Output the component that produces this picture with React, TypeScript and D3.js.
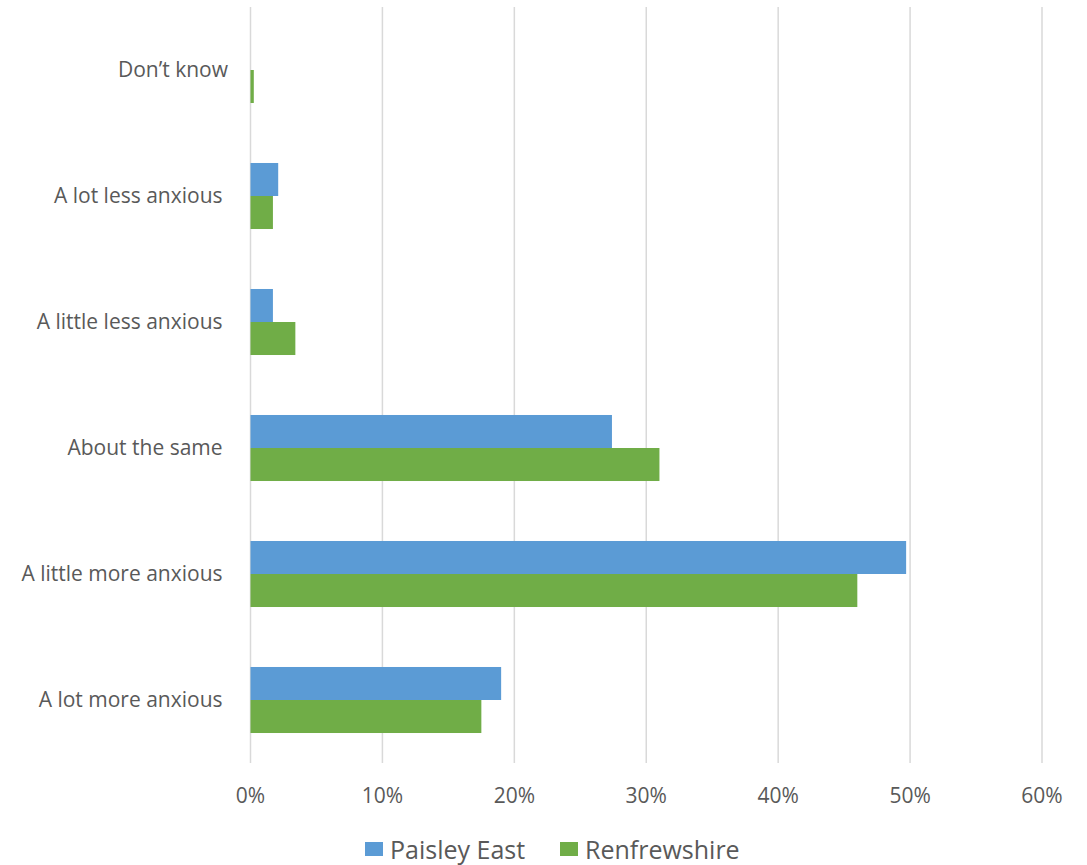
import React from "react";
import * as d3 from "d3";

const categories = [
  "Don\u2019t know",
  "A lot less anxious ",
  "A little less anxious ",
  "About the same ",
  "A little more anxious ",
  "A lot more anxious ",
];
const seriesNames = ["Paisley East", "Renfrewshire"];
const paisleyEast = [0, 2.1, 1.7, 27.4, 49.7, 19.0];
const renfrewshire = [0.25, 1.7, 3.4, 31.0, 46.0, 17.5];
const colors = ["#5b9bd5", "#70ad47"];
const xTicks = [0, 10, 20, 30, 40, 50, 60];

const W = 1087;
const H = 865;
const margin = { left: 250.5, right: 45, top: 7, bottom: 102 };

export default function App() {
  const x = d3.scaleLinear().domain([0, 60]).range([margin.left, W - margin.right]);
  const y = d3
    .scaleBand<string>()
    .domain(categories)
    .range([margin.top, H - margin.bottom])
    .paddingInner(0.476)
    .paddingOuter(0.238);
  const inner = d3.scaleBand<string>().domain(seriesNames).range([0, y.bandwidth()]);
  const series = [paisleyEast, renfrewshire];
  const font = "'Open Sans', sans-serif";
  return (
    <svg width={W} height={H} style={{ display: "block", position: "absolute", left: 0, top: 0 }}>
      <rect width={W} height={H} fill="#fff" />
      {xTicks.map((t) => (
        <line key={t} x1={x(t)} x2={x(t)} y1={margin.top} y2={H - margin.bottom} stroke="#d9d9d9" strokeWidth={1.5} />
      ))}
      {categories.map((c, i) =>
        series.map((s, j) => (
          <rect
            key={c + j}
            x={x(0)}
            y={(y(c) as number) + (inner(seriesNames[j]) as number)}
            width={x(s[i]) - x(0)}
            height={inner.bandwidth()}
            fill={colors[j]}
          />
        ))
      )}
      {categories.map((c) => (
        <text
          key={c}
          x={228}
          y={(y(c) as number) + y.bandwidth() / 2 - 1}
          textAnchor="end"
          dominantBaseline="central"
          fontFamily={font}
          fontSize={21}
          fill="#595959"
          style={{ whiteSpace: "pre" }}
        >
          {c}
        </text>
      ))}
      {xTicks.map((t) => (
        <text
          key={t}
          x={x(t)}
          y={795}
          textAnchor="middle"
          dominantBaseline="central"
          fontFamily={font}
          fontSize={21}
          fill="#595959"
        >
          {t + "%"}
        </text>
      ))}
      {seriesNames.map((n, j) => {
        const lx = [365, 560][j];
        return (
          <g key={n}>
            <rect x={lx} y={842} width={18} height={14} fill={colors[j]} />
            <text x={lx + 25} y={849} dominantBaseline="central" fontFamily={font} fontSize={25} fill="#595959">
              {n}
            </text>
          </g>
        );
      })}
    </svg>
  );
}
